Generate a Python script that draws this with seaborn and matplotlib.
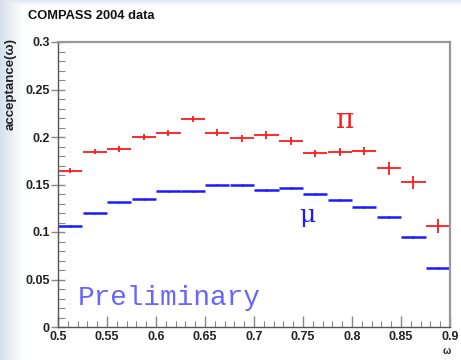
import numpy as np
import pandas as pd
import matplotlib
matplotlib.use("Agg")
import matplotlib.pyplot as plt
from matplotlib.ticker import MultipleLocator, FixedLocator
import seaborn as sns

# omega bin centres (bin width 0.025 between 0.5 and 0.9)
omega = [0.5125, 0.5375, 0.5625, 0.5875, 0.6125, 0.6375, 0.6625, 0.6875,
         0.7125, 0.7375, 0.7625, 0.7875, 0.8125, 0.8375, 0.8625, 0.8875]
half_width = 0.0125

acc_pi = [0.1645, 0.1846, 0.1874, 0.1997, 0.2039, 0.2190, 0.2045, 0.1986,
          0.2020, 0.1958, 0.1828, 0.1839, 0.1853, 0.1670, 0.1523, 0.1063]
err_pi = [0.0024, 0.0025, 0.0027, 0.0030, 0.0032, 0.0035, 0.0035, 0.0035,
          0.0038, 0.0038, 0.0040, 0.0040, 0.0042, 0.0065, 0.0067, 0.0070]

acc_mu = [0.1063, 0.1197, 0.1312, 0.1350, 0.1428, 0.1428, 0.1500, 0.1495,
          0.1442, 0.1460, 0.1397, 0.1333, 0.1263, 0.1158, 0.0944, 0.0618]
err_mu = [0.0008, 0.0008, 0.0008, 0.0008, 0.0008, 0.0008, 0.0009, 0.0009,
          0.0009, 0.0009, 0.0010, 0.0010, 0.0010, 0.0010, 0.0010, 0.0010]

x_ticks = [0.5, 0.55, 0.6, 0.65, 0.7, 0.75, 0.8, 0.85, 0.9]
x_tick_labels = ["0.5", "0.55", "0.6", "0.65", "0.7", "0.75", "0.8", "0.85", "0.9"]
y_ticks = [0, 0.05, 0.1, 0.15, 0.2, 0.25, 0.3]
y_tick_labels = ["0", "0.05", "0.1", "0.15", "0.2", "0.25", "0.3"]

df = pd.DataFrame({"omega": omega, "pi": acc_pi, "pi_err": err_pi,
                   "mu": acc_mu, "mu_err": err_mu})

sns.set_theme(style="ticks")
plt.rcParams["font.family"] = ["Liberation Sans", "DejaVu Sans"]

W, H = 461, 360
fig = plt.figure(figsize=(W / 100, H / 100), dpi=100)
fig.patch.set_facecolor("white")

# soft slide background: bluish fade on the left and top edges
bg = fig.add_axes([0, 0, 1, 1], zorder=-10)
xs = np.arange(W)
ys = np.arange(H)
left = np.clip(1 - xs / 22.0, 0, 1)[None, :] * np.ones((H, 1))
top = np.clip(1 - ys / 6.0, 0, 1)[:, None] * np.ones((1, W)) * 0.7
fade = np.maximum(left, top)
base = np.array([1.0, 1.0, 1.0])
tint = np.array([0.84, 0.88, 0.93])
img = base[None, None, :] * (1 - fade[..., None]) + tint[None, None, :] * fade[..., None]
bg.imshow(img, aspect="auto", extent=[0, 1, 0, 1], origin="upper")
bg.set_axis_off()

ax = fig.add_axes([58 / W, 1 - 327 / H, 392 / W, 285 / H])
ax.set_facecolor("white")

ax.errorbar(df["omega"], df["pi"], xerr=half_width, yerr=df["pi_err"],
            fmt="none", ecolor="#ff1a1a", elinewidth=1.3, capsize=0)
ax.errorbar(df["omega"], df["mu"], xerr=half_width, yerr=df["mu_err"],
            fmt="none", ecolor="#1a1aff", elinewidth=1.8, capsize=0)

ax.set_xlim(0.5, 0.9)
ax.set_ylim(0, 0.3)
ax.xaxis.set_major_locator(FixedLocator(x_ticks))
ax.set_xticklabels(x_tick_labels)
ax.yaxis.set_major_locator(FixedLocator(y_ticks))
ax.set_yticklabels(y_tick_labels)
ax.xaxis.set_minor_locator(MultipleLocator(0.01))
ax.yaxis.set_minor_locator(MultipleLocator(0.01))

ax.tick_params(axis="y", which="major", direction="inout", length=10, width=1,
               color="#888888", labelsize=9, pad=1)
ax.tick_params(axis="y", which="minor", direction="in", length=5, width=0.8,
               color="#888888")
ax.tick_params(axis="x", which="major", direction="in", length=8, width=1,
               color="#888888", labelsize=9, pad=3)
ax.tick_params(axis="x", which="minor", direction="in", length=4, width=0.8,
               color="#888888")
for lab in ax.get_xticklabels() + ax.get_yticklabels():
    lab.set_fontweight("bold")
    lab.set_color("#222222")

for side in ["left", "bottom"]:
    ax.spines[side].set_color("#555555")
    ax.spines[side].set_linewidth(1.0)
for side in ["top", "right"]:
    ax.spines[side].set_color("#999999")
    ax.spines[side].set_linewidth(1.6)

ax.set_xlabel("")
ax.set_ylabel("")

fig.text(28 / W, 1 - 16 / H, "COMPASS 2004 data", fontsize=9.3, fontweight="bold",
         color="#111111", va="center", ha="left")
fig.text(11 / W, 1 - 38 / H, "acceptance(\u03c9)", rotation=90, fontsize=9.5,
         fontweight="bold", color="#222222", va="top", ha="center")
fig.text(447 / W, 1 - 351 / H, "\u03c9", fontsize=7, fontweight="bold",
         color="#222222", va="center", ha="center")

ax.text(0.793, 0.217, "\u03c0", fontsize=20, color="#ff1a1a", ha="center",
        va="center", family="DejaVu Serif")
ax.text(0.754, 0.117, "\u03bc", fontsize=18, color="#1a1aff", ha="center",
        va="center", family="DejaVu Serif")
ax.text(0.52, 0.0305, "Preliminary", fontsize=20, color="#6666ff",
        family="Liberation Mono", ha="left", va="center")

fig.savefig("out.png", dpi=100)
